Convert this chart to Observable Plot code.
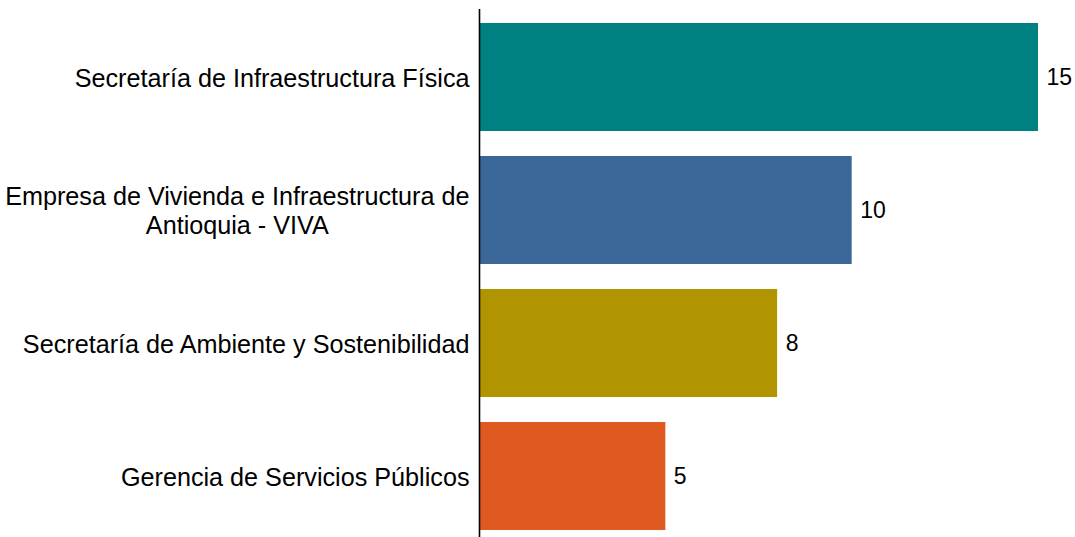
<!DOCTYPE html>
<html>
<head>
<meta charset="utf-8">
<script src="https://cdn.jsdelivr.net/npm/d3@7"></script>
<script src="https://cdn.jsdelivr.net/npm/@observablehq/plot@0.6"></script>
<style>
  html, body { margin: 0; padding: 0; background: #fff; overflow: hidden; }
  body { position: relative; width: 1075px; height: 537px; font-family: "Liberation Sans", Arial, sans-serif; }
  #title { position: absolute; left: 333px; top: -22px; font: bold 25px/25px "Liberation Sans", Arial, sans-serif; color: #000; white-space: nowrap; }
  #chart { position: absolute; left: 0; top: 0; }
</style>
</head>
<body>
<div id="title">Proyectos por organismo responsable</div>
<div id="chart"></div>
<script>
const dependencias = [
  "Secretaría de Infraestructura Física",
  "Empresa de Vivienda e Infraestructura de Antioquia - VIVA",
  "Secretaría de Ambiente y Sostenibilidad",
  "Gerencia de Servicios Públicos"
];
const etiquetas = [
  "Secretaría de Infraestructura Física",
  "Empresa de Vivienda e Infraestructura de\nAntioquia - VIVA",
  "Secretaría de Ambiente y Sostenibilidad",
  "Gerencia de Servicios Públicos"
];
const proyectos = [15, 10, 8, 5];
const colores = ["#008080", "#3b6698", "#b09400", "#df5a20"];

const data = dependencias.map((d, i) => ({dep: d, label: etiquetas[i], n: proyectos[i], color: colores[i]}));

const chart = Plot.plot({
  width: 1075,
  height: 544,
  marginLeft: 479,
  marginRight: 37,
  marginTop: 9,
  marginBottom: 0,
  style: {fontFamily: "'Liberation Sans', Arial, sans-serif", background: "#fff"},
  x: {domain: [0, 15], axis: null},
  y: {domain: dependencias, paddingInner: 0.19, paddingOuter: 0.1, axis: null},
  color: {type: "identity"},
  marks: [
    Plot.barX(data, {x: "n", y: "dep", fill: "color"}),
    Plot.ruleX([0], {stroke: "#000", strokeWidth: 1.6}),
    Plot.text(data, {x: "n", y: "dep", text: d => String(d.n), textAnchor: "start", dx: 8, fontSize: 23, fill: "#000"}),
    Plot.text(data, {x: 0, y: "dep", text: "label", textAnchor: "end", dx: -10, fontSize: 25.2, lineHeight: 1.16, fill: "#000", className: "ylab"})
  ]
});
document.getElementById("chart").append(chart);

// center multi-line labels under their widest line, keeping right edge
chart.querySelectorAll(".ylab text").forEach(t => {
  const spans = t.querySelectorAll("tspan");
  if (spans.length > 1) {
    let maxW = 0;
    spans.forEach(s => { maxW = Math.max(maxW, s.getComputedTextLength()); });
    t.setAttribute("text-anchor", "middle");
    spans.forEach(s => s.setAttribute("x", -maxW / 2));
  }
});
</script>
</body>
</html>
